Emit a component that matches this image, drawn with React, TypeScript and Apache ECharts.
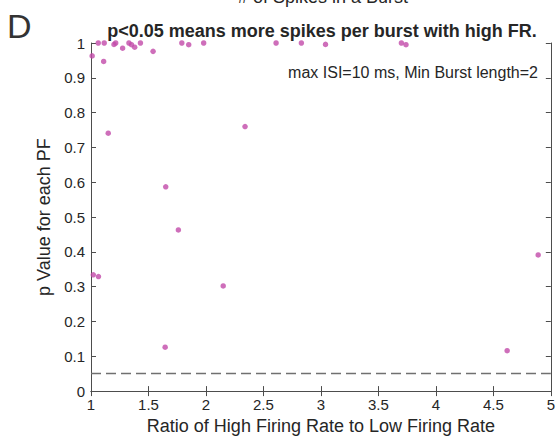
import React, { useEffect, useRef } from "react";
import * as echarts from "echarts";

const ratioX: number[] = [
  1.01, 1.063, 1.115, 1.11, 1.15, 1.2, 1.215, 1.275, 1.33, 1.352, 1.38, 1.43,
  1.54, 1.79, 1.85, 1.98, 2.34, 2.61, 2.83, 3.04, 3.7, 3.74, 1.65, 1.76, 1.02,
  1.065, 2.15, 1.645, 4.89, 4.62,
];
const pValues: number[] = [
  0.963, 1.0, 1.0, 0.947, 0.741, 0.996, 1.0, 0.985, 1.0, 0.995, 0.988, 1.0,
  0.976, 1.0, 0.995, 1.0, 0.76, 1.0, 1.0, 0.996, 1.0, 0.995, 0.587, 0.463,
  0.334, 0.329, 0.302, 0.126, 0.391, 0.116,
];
const thresholdP = 0.05;
const xRange = [1, 5];
const yRange = [0, 1];

const titleText = "p<0.05 means more spikes per burst with high FR.";
const prevTitle = "# of Spikes in a Burst";
const noteText = "max ISI=10 ms, Min Burst length=2";
const panelLetter = "D";
const xName = "Ratio of High Firing Rate to Low Firing Rate";
const yName = "p Value for each PF";

const FONT = "'Liberation Sans', Arial, Helvetica, sans-serif";
const TXT = "#262626";
const AX = "#4d4d4d";

export default function App() {
  const ref = useRef<HTMLDivElement>(null);
  useEffect(() => {
    if (!ref.current) return;
    const chart = echarts.init(ref.current, undefined, { renderer: "svg" });
    const data = ratioX.map((x, i) => [x, pValues[i]]);
    const tickStyle = {
      show: true,
      inside: true,
      length: 5,
      lineStyle: { color: AX, width: 1 },
    };
    const axisLine = { show: true, lineStyle: { color: AX, width: 1 } };
    chart.setOption({
      animation: false,
      backgroundColor: "#ffffff",
      textStyle: { fontFamily: FONT },
      grid: { left: 91, right: 6, top: 43, bottom: 41, containLabel: false },
      xAxis: [
        {
          type: "value",
          min: xRange[0],
          max: xRange[1],
          interval: 0.5,
          position: "bottom",
          axisLine,
          axisTick: tickStyle,
          splitLine: { show: false },
          axisLabel: { color: TXT, fontSize: 15, margin: 6, fontFamily: FONT },
          name: xName,
          nameLocation: "middle",
          nameGap: 24,
          nameTextStyle: { color: TXT, fontSize: 18, fontFamily: FONT },
        },
        {
          type: "value",
          min: xRange[0],
          max: xRange[1],
          interval: 0.5,
          position: "top",
          axisLine,
          axisTick: tickStyle,
          splitLine: { show: false },
          axisLabel: { show: false },
        },
      ],
      yAxis: [
        {
          type: "value",
          min: yRange[0],
          max: yRange[1],
          interval: 0.1,
          position: "left",
          axisLine,
          axisTick: tickStyle,
          splitLine: { show: false },
          axisLabel: {
            color: TXT,
            fontSize: 15,
            margin: 6,
            fontFamily: FONT,
            formatter: (v: number) => String(Math.round(v * 10) / 10),
          },
          name: yName,
          nameLocation: "middle",
          nameGap: 29,
          nameRotate: 90,
          nameTextStyle: { color: TXT, fontSize: 18, fontFamily: FONT },
        },
        {
          type: "value",
          min: yRange[0],
          max: yRange[1],
          interval: 0.1,
          position: "right",
          axisLine,
          axisTick: tickStyle,
          splitLine: { show: false },
          axisLabel: { show: false },
        },
      ],
      series: [
        {
          type: "scatter",
          data,
          symbol: "circle",
          symbolSize: 5.5,
          itemStyle: { color: "#c24aa9" },
          markLine: {
            silent: true,
            symbol: "none",
            label: { show: false },
            lineStyle: { color: "#707070", type: [10, 5], width: 1.3 },
            data: [{ yAxis: thresholdP }],
          },
          z: 3,
        },
      ],
      graphic: [
        {
          type: "text",
          x: 323,
          y: 6,
          style: {
            text: prevTitle,
            font: `18px ${FONT}`,
            fill: TXT,
            textAlign: "center",
            textVerticalAlign: "bottom",
          },
        },
        {
          type: "text",
          x: 322,
          y: 31,
          style: {
            text: titleText,
            font: `bold 18px ${FONT}`,
            fill: TXT,
            textAlign: "center",
            textVerticalAlign: "middle",
          },
        },
        {
          type: "text",
          x: 538,
          y: 72,
          style: {
            text: noteText,
            font: `16px ${FONT}`,
            fill: TXT,
            textAlign: "right",
            textVerticalAlign: "middle",
          },
        },
        {
          type: "text",
          x: 7,
          y: 26,
          style: {
            text: panelLetter,
            font: `300 34px ${FONT}`,
            fill: "#333333",
            textAlign: "left",
            textVerticalAlign: "middle",
          },
        },
      ],
    });
    return () => chart.dispose();
  }, []);
  return (
    <div
      ref={ref}
      style={{ position: "fixed", left: 0, top: 0, width: 558, height: 440 }}
    />
  );
}
